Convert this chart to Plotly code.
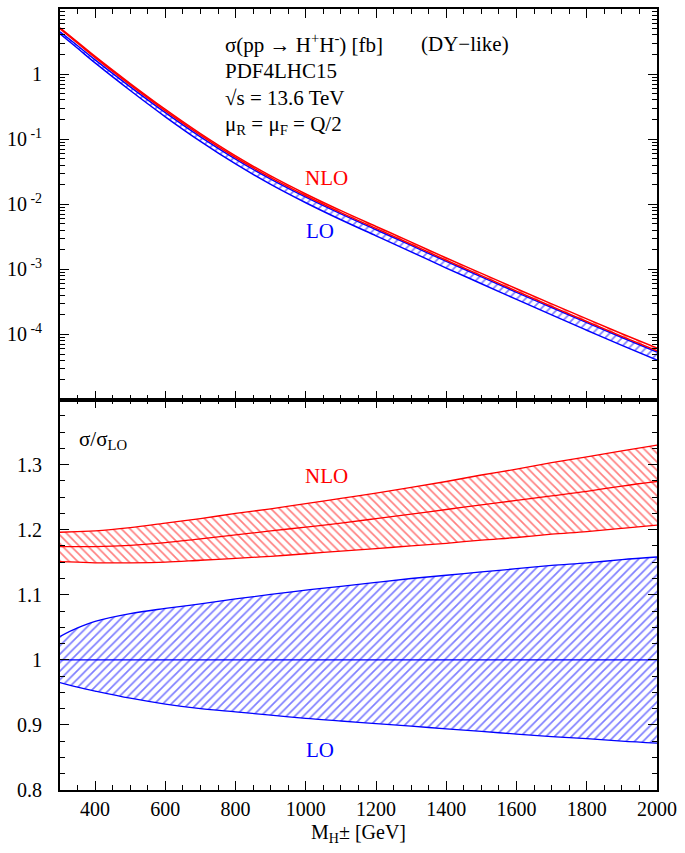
import plotly.graph_objects as go
from plotly.subplots import make_subplots

# ---------------- data ----------------
mass = [300, 350, 400, 500, 600, 700, 800, 900, 1000, 1100, 1200, 1300,
        1400, 1500, 1600, 1700, 1800, 1900, 2000]
# LO cross section [fb] (central)
lo_xsec = [4.3, 2.6, 1.56, 0.595, 0.237, 0.100, 0.0452, 0.0221, 0.0116,
           0.00638, 0.00363, 0.00207, 0.00117, 6.76e-4, 3.89e-4, 2.26e-4,
           1.32e-4, 7.76e-5, 4.62e-5]
# ratios sigma / sigma_LO
lo_up = [1.036, 1.049, 1.059, 1.071, 1.079, 1.086, 1.0935, 1.1005, 1.107,
         1.113, 1.119, 1.125, 1.130, 1.135, 1.140, 1.145, 1.149, 1.154, 1.158]
lo_dn = [0.965, 0.958, 0.952, 0.941, 0.932, 0.925, 0.920, 0.915, 0.910,
         0.906, 0.902, 0.898, 0.894, 0.890, 0.886, 0.882, 0.879, 0.875, 0.872]
lo_c = [1.0] * len(mass)
nlo_c = [1.174, 1.174, 1.174, 1.176, 1.180, 1.186, 1.192, 1.198, 1.204,
         1.210, 1.217, 1.224, 1.231, 1.238, 1.245, 1.252, 1.259, 1.267, 1.274]
nlo_up = [1.196, 1.197, 1.198, 1.203, 1.210, 1.217, 1.225, 1.232, 1.240,
          1.248, 1.256, 1.265, 1.274, 1.284, 1.293, 1.303, 1.312, 1.321, 1.330]
nlo_dn = [1.151, 1.150, 1.149, 1.149, 1.150, 1.153, 1.156, 1.159, 1.163,
          1.167, 1.171, 1.175, 1.179, 1.184, 1.188, 1.193, 1.197, 1.202, 1.207]

x_ticks = [400, 600, 800, 1000, 1200, 1400, 1600, 1800, 2000]
log_tickvals = [1, 0.1, 0.01, 0.001, 0.0001]
log_ticktext = ["1", "10<sup> -1</sup>", "10<sup> -2</sup>",
                "10<sup> -3</sup>", "10<sup> -4</sup>"]
ratio_tickvals = [0.8, 0.9, 1.0, 1.1, 1.2, 1.3]
ratio_ticktext = ["0.8", "0.9", "1", "1.1", "1.2", "1.3"]

RED = "#ff0000"
BLUE = "#0000ff"
FONT = "Liberation Serif"

# top panel bands: sigma = sigma_LO * ratio
top_lo_up = [a * b for a, b in zip(lo_xsec, lo_up)]
top_lo_dn = [a * b for a, b in zip(lo_xsec, lo_dn)]
top_nlo_up = [a * b for a, b in zip(lo_xsec, nlo_up)]
top_nlo_dn = [a * b for a, b in zip(lo_xsec, nlo_dn)]

fig = make_subplots(rows=2, cols=1, shared_xaxes=False, vertical_spacing=0.0)


def band(lower, upper, color, shape, row, width):
    fig.add_trace(go.Scatter(x=mass, y=lower, mode="lines", line_shape="spline",
                             line=dict(color=color, width=width),
                             showlegend=False, hoverinfo="skip"), row=row, col=1)
    fig.add_trace(go.Scatter(x=mass, y=upper, mode="lines", line_shape="spline",
                             line=dict(color=color, width=width),
                             fill="tonexty", fillcolor="rgba(0,0,0,0)",
                             fillpattern=dict(shape=shape, fgcolor=color,
                                              bgcolor="rgba(0,0,0,0)",
                                              size=6, solidity=0.28),
                             showlegend=False, hoverinfo="skip"), row=row, col=1)


# top panel
band(top_lo_dn, top_lo_up, BLUE, "/", 1, 1.5)
band(top_nlo_dn, top_nlo_up, RED, "\\", 1, 1.5)

# bottom panel
band(lo_dn, lo_up, BLUE, "/", 2, 1.3)
band(nlo_dn, nlo_up, RED, "\\", 2, 1.3)
for yv, col in ((lo_c, BLUE), (nlo_c, RED)):
    fig.add_trace(go.Scatter(x=mass, y=yv, mode="lines", line_shape="spline",
                             line=dict(color=col, width=1.3),
                             showlegend=False, hoverinfo="skip"), row=2, col=1)

axis_common = dict(showline=True, linecolor="black", linewidth=1.8, mirror="allticks",
                   ticks="inside", ticklen=9, tickwidth=1.3, tickcolor="black",
                   showgrid=False, zeroline=False,
                   tickfont=dict(family=FONT, size=20, color="black"))

fig.update_xaxes(range=[300, 2000], tickvals=x_ticks,
                 minor=dict(ticks="inside", ticklen=5, tickwidth=1.1,
                            dtick=50, tick0=0, tickcolor="black", showgrid=False),
                 **axis_common)
fig.update_xaxes(showticklabels=False, row=1, col=1)
fig.update_xaxes(ticklabelstandoff=0, row=2, col=1)

minor_log = [k * 10.0 ** n for n in range(-5, 1) for k in range(2, 10)]
fig.update_yaxes(type="log", range=[-5, 1], tickvals=log_tickvals,
                 ticktext=log_ticktext, ticklabelstandoff=12,
                 minor=dict(ticks="inside", ticklen=5, tickwidth=1.1,
                            tickvals=minor_log, tickcolor="black", showgrid=False),
                 row=1, col=1, **axis_common)
fig.update_yaxes(range=[0.8, 1.4], tickvals=ratio_tickvals, ticktext=ratio_ticktext,
                 ticklabelstandoff=12,
                 minor=dict(ticks="inside", ticklen=5, tickwidth=1.1,
                            dtick=0.025, tick0=0.8, tickcolor="black", showgrid=False),
                 row=2, col=1, **axis_common)

fig.update_layout(xaxis=dict(domain=[0, 1]), yaxis=dict(domain=[0.5, 1.0]),
                  xaxis2=dict(domain=[0, 1]), yaxis2=dict(domain=[0.0, 0.5]))

L, R, T, B = 57, 28, 7, 63
W, H = 685, 853
PW, PH = W - L - R, H - T - B


def px(x):
    return (x - L) / PW


def py(y):
    return (H - B - y) / PH


ann = []


def text(t, x, y, color="black", xanchor="center", size=21):
    ann.append(dict(text=t, x=px(x), y=py(y), xref="paper", yref="paper",
                    xanchor=xanchor, yanchor="middle", showarrow=False,
                    font=dict(family=FONT, size=size, color=color)))


text("σ(pp → H<sup>+</sup>H<sup>-</sup>) [fb]", 221, 42, xanchor="left")
text("(DY−like)", 418, 42, xanchor="left")
text("PDF4LHC15", 221, 69, xanchor="left")
text("√s = 13.6 TeV", 221, 96, xanchor="left")
text("μ<sub>R</sub> = μ<sub>F</sub> = Q/2", 221, 123, xanchor="left")
text("NLO", 325, 176, RED)
text("LO", 318, 230, BLUE)
text("σ/σ<sub>LO</sub>", 74, 439, xanchor="left")
text("NLO", 325, 475, RED)
text("LO", 318, 750, BLUE)
text("M<sub>H</sub>± [GeV]", 357, 834, size=20)

fig.update_layout(width=W, height=H, margin=dict(l=L, r=R, t=T, b=B),
                  paper_bgcolor="white", plot_bgcolor="white",
                  annotations=ann, showlegend=False,
                  font=dict(family=FONT, color="black"))

fig.write_html("out.html")
